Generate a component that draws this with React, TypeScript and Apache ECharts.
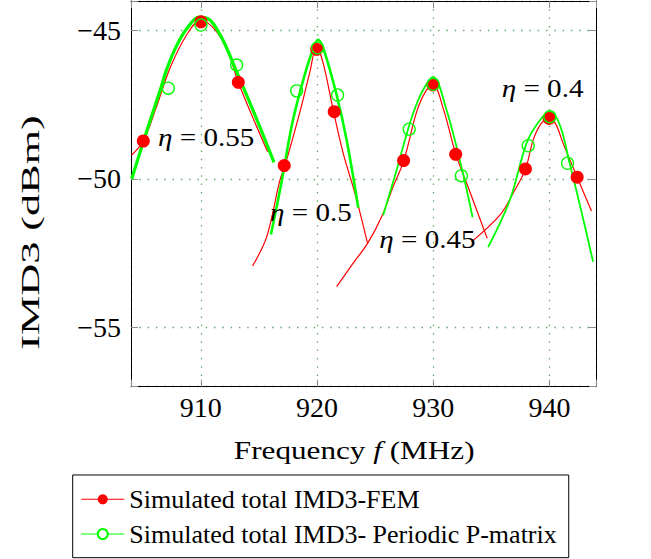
import React, { useEffect, useRef } from 'react';
import * as echarts from 'echarts';

const FEM = 'Simulated total IMD3-FEM';
const PPM = 'Simulated total IMD3- Periodic P-matrix';

const xTicks = [910, 920, 930, 940];
const yTicks = [-55, -50, -45];

// FEM (red) curves, one per eta, [frequency MHz, IMD3 dBm]
const femCurve055 = [[904.06, -49.19], [905.06, -48.72], [906.15, -47.61], [907.35, -46.27], [908.73, -45.18], [910.02, -44.64], [911.31, -45.01], [912.34, -45.72], [913.23, -46.74], [914.49, -47.94], [915.75, -49.08]];
const femCurve05 = [[914.46, -52.93], [915.67, -51.95], [916.81, -50.04], [917.24, -49.56], [918.53, -47.74], [919.39, -46.39], [919.95, -45.55], [920.51, -46.06], [921.39, -47.67], [922.25, -49.13], [923.26, -50.48], [924.35, -52.17]];
const femCurve045 = [[921.69, -53.63], [923.11, -52.84], [924.35, -52.17], [925.56, -51.27], [926.61, -50.2], [927.47, -49.38], [928.57, -47.74], [929.37, -47.03], [929.99, -46.83], [930.85, -47.61], [931.95, -49.17], [933.15, -50.43], [934.64, -52.0]];
const femCurve04 = [[933.29, -52.12], [935.73, -51.22], [936.87, -50.48], [937.94, -49.66], [938.59, -48.69], [939.25, -48.15], [939.97, -47.95], [940.54, -48.15], [941.17, -48.8], [942.38, -49.94], [943.61, -51.08]];

// Periodic P-matrix (green) curves
const ppmCurve055 = [[904.06, -50.0], [905.38, -48.35], [906.49, -47.03], [907.1, -46.27], [907.96, -45.48], [908.9, -44.88], [909.85, -44.54], [910.79, -44.64], [911.82, -45.25], [913.03, -46.33], [914.66, -47.84], [916.3, -49.44]];
const ppmCurve05 = [[916.04, -51.87], [916.98, -50.04], [917.84, -48.18], [918.7, -46.83], [919.48, -45.82], [920.1, -45.31], [920.59, -45.65], [921.69, -47.17], [922.55, -48.69], [923.55, -50.97]];
const ppmCurve045 = [[925.69, -51.22], [926.85, -49.7], [927.99, -48.12], [928.94, -47.14], [929.99, -46.57], [931.15, -47.68], [932.49, -49.7], [933.38, -51.29]];
const ppmCurve04 = [[934.72, -52.3], [936.59, -50.71], [938.02, -48.8], [939.0, -48.11], [940.03, -47.73], [940.89, -48.18], [941.75, -49.5], [942.75, -51.1], [943.75, -52.79]];

// marked points
const femMarks = [[905.06, -48.72], [910.02, -44.7], [913.23, -46.74], [917.18, -49.55], [919.97, -45.63], [921.48, -47.73], [927.45, -49.38], [929.97, -46.83], [931.93, -49.17], [937.93, -49.66], [939.97, -47.96], [942.38, -49.94]];
const ppmMarks = [[907.21, -46.94], [910.02, -44.81], [913.09, -46.16], [918.25, -47.03], [920.05, -45.58], [921.77, -47.17], [927.93, -48.32], [930.0, -46.81], [932.42, -49.89], [938.17, -48.88], [940.03, -47.9], [941.55, -49.47]];

const etaValues = ['0.55', '0.5', '0.45', '0.4'];

const SERIF = '"Liberation Serif", "Times New Roman", Times, serif';

export default function App() {
  const ref = useRef<HTMLDivElement>(null);
  useEffect(() => {
    if (!ref.current) return;
    const chart = echarts.init(ref.current, undefined, { renderer: 'svg' });
    const red = '#ff0000';
    const green = '#00ff00';
    const gridColor = '#6aaa6a';
    const tickColor = '#8c8c8c';
    const femCurves = [femCurve055, femCurve05, femCurve045, femCurve04];
    const ppmCurves = [ppmCurve055, ppmCurve05, ppmCurve045, ppmCurve04];
    const ppmWidths = [3.2, 2.6, 1.8, 1.8];
    const etaPos = [[158, 136.7], [270, 211.7], [379.3, 239], [501.7, 88.3]];

    const axisLineStyle = { show: true, lineStyle: { color: '#000', width: 1 } };
    const tickStyle = { show: true, inside: true, length: 7, lineStyle: { color: tickColor, width: 1 } };
    const splitStyle = { show: true, lineStyle: { color: gridColor, width: 1.3, type: [1.5, 6.8] } };
    const labelFont = { fontFamily: SERIF, fontSize: 28, color: '#000' };

    const option: any = {
      animation: false,
      backgroundColor: '#fff',
      textStyle: { fontFamily: SERIF },
      grid: { left: 131, right: 55, top: 1, bottom: 172.4, containLabel: false, outerBoundsMode: 'none' },
      xAxis: [
        {
          type: 'value', min: 904, max: 944, position: 'bottom',
          axisLine: axisLineStyle, axisTick: tickStyle, splitLine: splitStyle,
          axisLabel: { ...labelFont, margin: 7, formatter: (v: number) => (xTicks.includes(v) ? String(v) : '') },
        },
        {
          type: 'value', min: 904, max: 944, position: 'top',
          axisLine: axisLineStyle, axisTick: tickStyle, splitLine: { show: false }, axisLabel: { show: false },
        },
      ],
      yAxis: [
        {
          type: 'value', min: -57, max: -44, splitNumber: 2, position: 'left',
          axisLine: axisLineStyle, axisTick: tickStyle, splitLine: splitStyle,
          axisLabel: { ...labelFont, margin: 10, formatter: (v: number) => (yTicks.includes(v) ? '\u2212' + Math.abs(v) : '') },
        },
        {
          type: 'value', min: -57, max: -44, splitNumber: 2, position: 'right',
          axisLine: axisLineStyle, axisTick: tickStyle, splitLine: { show: false }, axisLabel: { show: false },
        },
      ],
      legend: {
        left: 72.7, top: 475, orient: 'vertical', data: [FEM, PPM], selectedMode: false,
        itemWidth: 43, itemHeight: 12.5, itemGap: 4.7,
        padding: [9.3, 12, 8.7, 8],
        borderColor: '#000', borderWidth: 1, borderRadius: 0, backgroundColor: '#fff',
        textStyle: { fontFamily: SERIF, fontSize: 26, color: '#000', lineHeight: 30 },
        lineStyle: { width: 1.1 },
      },
      graphic: [
        {
          type: 'text', x: 354.2, y: 450, scaleX: 1.2,
          style: {
            text: 'Frequency {i|f} (MHz)', fontFamily: SERIF, fontSize: 26, fill: '#000', align: 'center', verticalAlign: 'middle',
            rich: { i: { fontFamily: SERIF, fontSize: 26, fontStyle: 'italic' } },
          },
        },
        {
          type: 'text', x: 30, y: 232.5, rotation: Math.PI / 2, scaleX: 1.7,
          style: { text: 'IMD3 (dBm)', fontFamily: SERIF, fontSize: 26, fill: '#000', align: 'center', verticalAlign: 'middle' },
        },
        ...etaValues.map((v, i) => ({
          type: 'text', x: etaPos[i][0], y: etaPos[i][1], scaleX: 1.12, z: 100,
          style: {
            text: '{i|\u03b7} = ' + v, fontFamily: SERIF, fontSize: 26, fill: '#000', align: 'left', verticalAlign: 'middle',
            rich: { i: { fontFamily: SERIF, fontSize: 26, fontStyle: 'italic' } },
          },
        })),
      ],
      series: [
        ...femCurves.map((c) => ({
          type: 'line', name: FEM, data: c, symbol: 'circle', symbolSize: 12, showSymbol: false, smooth: 0.35,
          lineStyle: { color: red, width: 1.2 }, itemStyle: { color: red }, z: 2, silent: true,
        })),
        ...ppmCurves.map((c, i) => ({
          type: 'line', name: PPM, data: c, symbol: 'emptyCircle', symbolSize: 12, showSymbol: false, smooth: 0.35,
          lineStyle: { color: green, width: ppmWidths[i] }, itemStyle: { color: green }, z: 3, silent: true,
        })),
        {
          type: 'scatter', name: FEM, data: femMarks, symbol: 'circle', symbolSize: 13,
          itemStyle: { color: red, opacity: 1 }, z: 4, silent: true,
        },
        {
          type: 'scatter', name: PPM, data: ppmMarks, symbol: 'circle', symbolSize: 12,
          itemStyle: { color: 'rgba(0,0,0,0)', borderColor: green, borderWidth: 1.3, opacity: 1 }, z: 5, silent: true,
        },
      ],
    };
    chart.setOption(option);
    return () => chart.dispose();
  }, []);
  return (
    <div
      ref={ref}
      style={{ position: 'fixed', left: 0, top: 0, width: 651, height: 559, background: '#fff' }}
    />
  );
}
